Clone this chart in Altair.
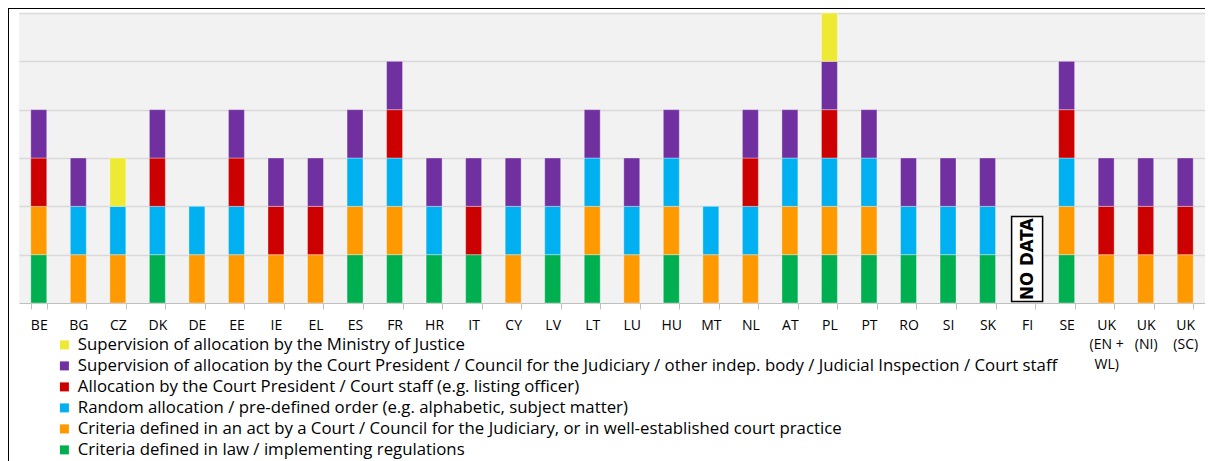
import altair as alt
import pandas as pd

countries = ["BE", "BG", "CZ", "DK", "DE", "EE", "IE", "EL", "ES", "FR", "HR", "IT", "CY", "LV",
             "LT", "LU", "HU", "MT", "NL", "AT", "PL", "PT", "RO", "SI", "SK", "FI", "SE",
             "UK\n(EN +\nWL)", "UK\n(NI)", "UK\n(SC)"]

# stack order bottom -> top
series_names = [
    "Criteria defined in law / implementing regulations",
    "Criteria defined in an act by a Court / Council for the Judiciary, or in well-established court practice",
    "Random allocation / pre-defined order (e.g. alphabetic, subject matter)",
    "Allocation by the Court President / Court staff (e.g. listing officer)",
    "Supervision of allocation by the Court President / Council for the Judiciary /  other indep. body / Judicial Inspection / Court staff",
    "Supervision of allocation by the Ministry of Justice",
]
series_colors = ["#00b050", "#ff9900", "#00b0f0", "#cc0000", "#7030a0", "#eeea33"]

#            BE BG CZ DK DE EE IE EL ES FR HR IT CY LV LT LU HU MT NL AT PL PT RO SI SK FI SE UK UK UK
law       = [1, 0, 0, 1, 0, 0, 0, 0, 1, 1, 1, 1, 0, 1, 1, 0, 1, 0, 0, 1, 1, 1, 1, 1, 1, 0, 1, 0, 0, 0]
court_act = [1, 1, 1, 0, 1, 1, 1, 1, 1, 1, 0, 0, 1, 0, 1, 1, 1, 1, 1, 1, 1, 1, 0, 0, 0, 0, 1, 1, 1, 1]
random_al = [0, 1, 1, 1, 1, 1, 0, 0, 1, 1, 1, 0, 1, 1, 1, 1, 1, 1, 1, 1, 1, 1, 1, 1, 1, 0, 1, 0, 0, 0]
president = [1, 0, 0, 1, 0, 1, 1, 1, 0, 1, 0, 1, 0, 0, 0, 0, 0, 0, 1, 0, 1, 0, 0, 0, 0, 0, 1, 1, 1, 1]
supervis  = [1, 1, 0, 1, 0, 1, 1, 1, 1, 1, 1, 1, 1, 1, 1, 1, 1, 0, 1, 1, 1, 1, 1, 1, 1, 0, 1, 1, 1, 1]
ministry  = [0, 0, 1, 0, 0, 0, 0, 0, 0, 0, 0, 0, 0, 0, 0, 0, 0, 0, 0, 0, 1, 0, 0, 0, 0, 0, 0, 0, 0, 0]
flags = [law, court_act, random_al, president, supervis, ministry]

no_data_country = ["FI"]
no_data_label = ["NO DATA"]
no_data_box_lo = [0.03]
no_data_box_hi = [1.79]
no_data_mid = [0.91]

rows = []
for si, name in enumerate(series_names):
    for ci, c in enumerate(countries):
        if flags[si][ci]:
            rows.append({"country": c, "series": name, "rank": si, "value": 1})
df = pd.DataFrame(rows)

legend_order = list(reversed(series_names))
legend_colors = list(reversed(series_colors))

xscale = alt.Scale(domain=countries, paddingInner=0.596, paddingOuter=0.298)
yscale = alt.Scale(domain=[0, 6], nice=False)

xaxis = alt.Axis(title=None, tickBand="extent", labelAngle=0, labelFont="Open Sans", labelFontSize=14,
                 labelColor="#000000", labelPadding=9, labelLineHeight=19.5,
                 labelExpr="split(datum.label, '\\n')", domainColor="#bfbfbf", tickColor="#bfbfbf",
                 tickSize=6, grid=False, labelOverlap=False)
yaxis = alt.Axis(title=None, labels=False, ticks=False, domain=False, values=[1, 2, 3, 4, 5, 6],
                 grid=True, gridColor="#d9d9d9", gridWidth=1.5)

bars = alt.Chart(df).mark_bar(stroke="#ffffff", strokeOpacity=0.35, strokeWidth=1).encode(
    x=alt.X("country:N", scale=xscale, axis=xaxis),
    y=alt.Y("sum(value):Q", stack="zero", scale=yscale, axis=yaxis),
    order=alt.Order("rank:Q", sort="ascending"),
    color=alt.Color("series:N", scale=alt.Scale(domain=legend_order, range=legend_colors),
                    legend=alt.Legend(title=None, orient="none", legendX=37, legendY=323.5,
                                      labelFont="Open Sans", labelFontSize=16.8, labelColor="#000000",
                                      symbolType="square", symbolSize=81, symbolStrokeWidth=0,
                                      labelLimit=1200, rowPadding=3.0, labelOffset=5)),
)

nd = pd.DataFrame({"country": no_data_country, "label": no_data_label,
                   "lo": no_data_box_lo, "hi": no_data_box_hi, "mid": no_data_mid})

box = alt.Chart(nd).mark_bar(size=31, fill="#ffffff", stroke="#000000", strokeWidth=1.5).encode(
    x=alt.X("country:N", scale=xscale),
    y=alt.Y("lo:Q", scale=yscale),
    y2="hi:Q",
)
txt = alt.Chart(nd).mark_text(angle=270, font="Liberation Sans Narrow, DejaVu Sans Condensed, Liberation Sans",
                              fontWeight="bold", fontSize=18.5, color="#000000").encode(
    x=alt.X("country:N", scale=xscale),
    y=alt.Y("mid:Q", scale=yscale),
    text="label:N",
)

frame_data = alt.Data(values=[{"k": 1}])
frame_left = alt.Chart(frame_data).mark_rule(color="#000000", strokeWidth=2).encode(
    x=alt.value(-11), y=alt.value(-6), y2=alt.value(460))
frame_top = alt.Chart(frame_data).mark_rule(color="#000000", strokeWidth=2).encode(
    x=alt.value(-12), x2=alt.value(1190), y=alt.value(-5))

chart = alt.layer(bars, box, txt, frame_left, frame_top).properties(
    width=1186, height=290,
    padding={"left": 11, "top": 5, "right": 0, "bottom": 160},
    autosize=alt.AutoSizeParams(type="none"),
).configure_view(fill="#f2f2f2", stroke="transparent", strokeWidth=0)

chart.save("out.html", embed_options={"renderer": "svg", "actions": False})
